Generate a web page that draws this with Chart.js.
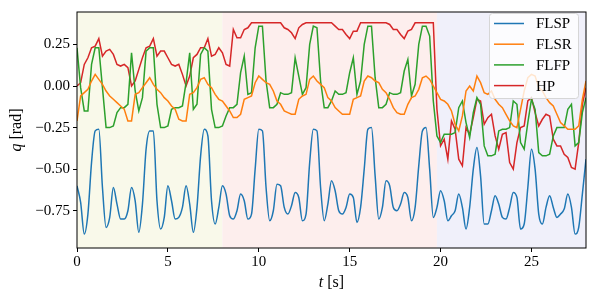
<!DOCTYPE html>
<html>
<head>
<meta charset="utf-8">
<script src="https://cdn.jsdelivr.net/npm/chart.js@4"></script>
<style>
  html, body { margin: 0; padding: 0; background: #fff; }
  #chart { display: block; }
</style>
</head>
<body>
<canvas id="chart" width="598" height="299"></canvas>
<script>
// ── Data (0.2 s sampling) ───────────────────────────────────
const t = [
  0.0, 0.2, 0.4, 0.6, 0.8, 1.0, 1.2, 1.4, 1.6, 1.8,
  2.0, 2.2, 2.4, 2.6, 2.8, 3.0, 3.2, 3.4, 3.6, 3.8,
  4.0, 4.2, 4.4, 4.6, 4.8, 5.0, 5.2, 5.4, 5.6, 5.8,
  6.0, 6.2, 6.4, 6.6, 6.8, 7.0, 7.2, 7.4, 7.6, 7.8,
  8.0, 8.2, 8.4, 8.6, 8.8, 9.0, 9.2, 9.4, 9.6, 9.8,
  10.0, 10.2, 10.4, 10.6, 10.8, 11.0, 11.2, 11.4, 11.6, 11.8,
  12.0, 12.2, 12.4, 12.6, 12.8, 13.0, 13.2, 13.4, 13.6, 13.8,
  14.0, 14.2, 14.4, 14.6, 14.8, 15.0, 15.2, 15.4, 15.6, 15.8,
  16.0, 16.2, 16.4, 16.6, 16.8, 17.0, 17.2, 17.4, 17.6, 17.8,
  18.0, 18.2, 18.4, 18.6, 18.8, 19.0, 19.2, 19.4, 19.6, 19.8,
  20.0, 20.2, 20.4, 20.6, 20.8, 21.0, 21.2, 21.4, 21.6, 21.8,
  22.0, 22.2, 22.4, 22.6, 22.8, 23.0, 23.2, 23.4, 23.6, 23.8,
  24.0, 24.2, 24.4, 24.6, 24.8, 25.0, 25.2, 25.4, 25.6, 25.8,
  26.0, 26.2, 26.4, 26.6, 26.8, 27.0, 27.2, 27.4, 27.6, 27.8,
  28.0
];

const flsp = [
  -0.60, -0.70, -0.89, -0.77, -0.46, -0.27, -0.26, -0.61, -0.85, -0.79,
  -0.61, -0.71, -0.80, -0.80, -0.75, -0.61, -0.69, -0.88, -0.71, -0.38,
  -0.27, -0.27, -0.69, -0.86, -0.79, -0.60, -0.69, -0.80, -0.79, -0.73,
  -0.60, -0.71, -0.88, -0.73, -0.42, -0.26, -0.30, -0.69, -0.83, -0.73,
  -0.60, -0.65, -0.78, -0.80, -0.75, -0.65, -0.69, -0.80, -0.77, -0.50,
  -0.26, -0.27, -0.61, -0.81, -0.75, -0.59, -0.60, -0.73, -0.77, -0.72,
  -0.64, -0.67, -0.81, -0.77, -0.46, -0.26, -0.27, -0.61, -0.81, -0.71,
  -0.57, -0.63, -0.75, -0.77, -0.73, -0.65, -0.67, -0.82, -0.73, -0.50,
  -0.26, -0.25, -0.54, -0.80, -0.73, -0.57, -0.60, -0.73, -0.75, -0.71,
  -0.64, -0.67, -0.81, -0.73, -0.48, -0.27, -0.25, -0.50, -0.79, -0.73,
  -0.63, -0.69, -0.81, -0.78, -0.75, -0.65, -0.73, -0.86, -0.73, -0.50,
  -0.37, -0.54, -0.83, -0.83, -0.75, -0.66, -0.71, -0.79, -0.80, -0.73,
  -0.64, -0.67, -0.86, -0.83, -0.61, -0.38, -0.50, -0.77, -0.83, -0.73,
  -0.66, -0.73, -0.79, -0.77, -0.74, -0.65, -0.73, -0.89, -0.85, -0.65,
  -0.44
];

const flsr = [
  -0.21, -0.06, -0.04, -0.02, 0.03, 0.07, 0.04, 0.01, -0.03, -0.06,
  -0.08, -0.10, -0.12, -0.14, -0.21, -0.21, -0.05, -0.04, -0.01, 0.02,
  0.05, 0.01, -0.02, -0.04, -0.07, -0.09, -0.12, -0.14, -0.20, -0.21,
  -0.21, -0.05, -0.04, -0.01, 0.04, 0.05, 0.01, -0.01, -0.05, -0.08,
  -0.09, -0.12, -0.15, -0.19, -0.19, -0.17, -0.08, -0.07, -0.06, 0.02,
  0.06, 0.04, 0.02, 0.01, -0.03, -0.09, -0.11, -0.15, -0.16, -0.17,
  -0.17, -0.08, -0.06, -0.05, 0.04, 0.06, 0.03, 0.01, -0.01, -0.07,
  -0.09, -0.13, -0.15, -0.17, -0.17, -0.17, -0.08, -0.07, -0.06, 0.03,
  0.06, 0.05, 0.03, 0.02, -0.02, -0.04, -0.08, -0.13, -0.16, -0.17,
  -0.17, -0.11, -0.07, -0.06, -0.02, 0.05, 0.06, 0.04, 0.00, -0.04,
  -0.08, -0.09, -0.11, -0.15, -0.23, -0.27, -0.18, -0.03, 0.00, -0.03,
  0.06, 0.02, -0.04, -0.05, -0.03, -0.08, -0.11, -0.13, -0.17, -0.21,
  -0.24, -0.25, -0.14, -0.03, 0.05, 0.07, 0.06, -0.01, -0.03, -0.07,
  -0.10, -0.12, -0.17, -0.22, -0.24, -0.26, -0.26, -0.26, -0.24, -0.08,
  0.03
];

const flfp = [
  0.23, -0.01, -0.15, -0.15, 0.13, 0.23, 0.23, -0.01, -0.25, -0.25,
  -0.24, -0.16, -0.13, -0.13, -0.11, 0.20, -0.03, -0.15, -0.07, 0.21,
  0.23, 0.23, -0.11, -0.25, -0.25, -0.24, -0.14, -0.13, -0.13, -0.12,
  0.02, 0.20, -0.14, -0.11, 0.19, 0.23, 0.21, -0.14, -0.25, -0.25,
  -0.24, -0.18, -0.13, -0.13, -0.11, 0.08, 0.18, -0.05, -0.04, 0.23,
  0.36, 0.36, 0.03, -0.13, -0.13, -0.11, -0.04, -0.05, -0.05, -0.04,
  0.17, 0.06, -0.05, -0.01, 0.25, 0.36, 0.35, 0.03, -0.13, -0.13,
  -0.09, -0.03, -0.05, -0.05, -0.04, 0.08, 0.17, -0.05, 0.03, 0.25,
  0.36, 0.36, 0.05, -0.13, -0.13, -0.11, -0.04, -0.05, -0.05, -0.04,
  0.09, 0.16, -0.06, 0.01, 0.25, 0.36, 0.36, 0.30, -0.09, -0.30,
  -0.34, -0.29, -0.29, -0.29, -0.28, -0.13, -0.09, -0.22, -0.31, -0.16,
  -0.07, -0.11, -0.36, -0.42, -0.42, -0.41, -0.27, -0.26, -0.26, -0.25,
  -0.09, -0.11, -0.34, -0.38, -0.22, -0.08, -0.14, -0.40, -0.42, -0.42,
  -0.41, -0.30, -0.25, -0.25, -0.25, -0.14, -0.11, -0.36, -0.34, -0.16,
  -0.07
];

const hp = [
  0.00, 0.02, 0.13, 0.17, 0.23, 0.24, 0.285, 0.18, 0.21, 0.22,
  0.19, 0.13, 0.12, 0.13, 0.11, 0.00, 0.03, 0.10, 0.17, 0.23,
  0.24, 0.285, 0.18, 0.21, 0.21, 0.17, 0.13, 0.12, 0.13, 0.07,
  0.00, 0.06, 0.17, 0.19, 0.23, 0.23, 0.285, 0.18, 0.19, 0.23,
  0.20, 0.13, 0.12, 0.34, 0.29, 0.29, 0.34, 0.35, 0.38, 0.38,
  0.38, 0.38, 0.38, 0.38, 0.38, 0.38, 0.38, 0.35, 0.34, 0.32,
  0.285, 0.35, 0.37, 0.38, 0.38, 0.38, 0.38, 0.38, 0.38, 0.38,
  0.38, 0.36, 0.34, 0.34, 0.31, 0.285, 0.33, 0.33, 0.38, 0.38,
  0.38, 0.38, 0.38, 0.38, 0.38, 0.38, 0.37, 0.34, 0.34, 0.31,
  0.285, 0.33, 0.34, 0.38, 0.38, 0.38, 0.38, 0.38, 0.38, -0.14,
  -0.36, -0.32, -0.44, -0.21, -0.26, -0.44, -0.48, -0.25, -0.29, -0.19,
  -0.08, -0.09, -0.23, -0.19, -0.17, -0.30, -0.38, -0.29, -0.28, -0.46,
  -0.50, -0.34, -0.25, -0.24, -0.09, -0.07, -0.16, -0.24, -0.20, -0.17,
  -0.18, -0.32, -0.36, -0.36, -0.41, -0.43, -0.49, -0.50, -0.34, -0.11,
  -0.01
];

const xTicks = [0, 5, 10, 15, 20, 25];
const yTicks = [-0.75, -0.50, -0.25, 0.00, 0.25];

// phase boundaries [s] and their shading
const phaseEdges  = [0, 8, 19.8, 28];
const phaseColors = ['#f9f9ea', '#fdeeed', '#f0f0fa'];

// ── Helpers ──────────────────────────────────────────────────
const SERIF = "'Liberation Serif', 'DejaVu Serif', serif";
const pts = ys => t.map((x, i) => ({ x, y: ys[i] }));
const fmtTick = v => (v < 0 ? '\u2212' : '') + Math.abs(v).toFixed(2);

// ── Plugins ──────────────────────────────────────────────────
const phaseShading = {
  id: 'phaseShading',
  beforeDatasetsDraw(chart) {
    const { ctx, chartArea: a, scales: { x } } = chart;
    ctx.save();
    for (let i = 0; i < phaseColors.length; i++) {
      const x0 = x.getPixelForValue(phaseEdges[i]);
      const x1 = x.getPixelForValue(phaseEdges[i + 1]);
      ctx.fillStyle = phaseColors[i];
      ctx.fillRect(x0, a.top, x1 - x0, a.bottom - a.top);
    }
    ctx.restore();
  }
};

const frameAndLegend = {
  id: 'frameAndLegend',
  afterDatasetsDraw(chart) {
    const { ctx, chartArea: a } = chart;
    ctx.save();
    // axes frame
    ctx.strokeStyle = '#000';
    ctx.lineWidth = 1;
    ctx.strokeRect(a.left, a.top, a.right - a.left, a.bottom - a.top);

    // legend box (upper right)
    const bx = 489, by = 13, bw = 89, bh = 85, r = 3;
    ctx.beginPath();
    ctx.roundRect(bx + 0.5, by + 0.5, bw, bh, r);
    ctx.fillStyle = 'rgba(255,255,255,0.8)';
    ctx.fill();
    ctx.strokeStyle = '#d6d6d6';
    ctx.stroke();

    ctx.font = `15px ${SERIF}`;
    ctx.textBaseline = 'middle';
    ctx.textAlign = 'left';
    chart.data.datasets.forEach((ds, i) => {
      const yy = by + 10.5 + i * 20.7;
      ctx.strokeStyle = ds.borderColor;
      ctx.lineWidth = 1.5;
      ctx.beginPath();
      ctx.moveTo(bx + 5, yy);
      ctx.lineTo(bx + 35, yy);
      ctx.stroke();
      ctx.fillStyle = '#000';
      ctx.fillText(ds.label, bx + 47, yy + 1);
    });
    ctx.restore();
  }
};

// axis titles with an italic variable and upright unit
const axisTitles = {
  id: 'axisTitles',
  afterDraw(chart) {
    const { ctx, chartArea: a } = chart;
    const draw = (v, unit, cx, cy, rot) => {
      ctx.save();
      ctx.translate(cx, cy);
      ctx.rotate(rot);
      ctx.textBaseline = 'middle';
      ctx.fillStyle = '#000';
      ctx.font = `italic 16px ${SERIF}`;
      const w1 = ctx.measureText(v).width;
      ctx.font = `16px ${SERIF}`;
      const w2 = ctx.measureText(unit).width;
      let x0 = -(w1 + w2) / 2;
      ctx.font = `italic 16px ${SERIF}`;
      ctx.fillText(v, x0, 0);
      ctx.font = `16px ${SERIF}`;
      ctx.fillText(unit, x0 + w1, 0);
      ctx.restore();
    };
    draw('t', ' [s]', (a.left + a.right) / 2, 283, 0);
    draw('q', ' [rad]', 17, (a.top + a.bottom) / 2, -Math.PI / 2);
  }
};

// ── Chart ────────────────────────────────────────────────────
const line = (label, data, color, mode) => ({
  label,
  data: pts(data),
  borderColor: color,
  borderWidth: 1.5,
  pointRadius: 0,
  fill: false,
  cubicInterpolationMode: mode,
  tension: 0
});

new Chart(document.getElementById('chart'), {
  type: 'line',
  data: {
    datasets: [
      line('FLSP', flsp, '#1f77b4', 'monotone'),
      line('FLSR', flsr, '#ff7f0e', 'default'),
      line('FLFP', flfp, '#2ca02c', 'default'),
      line('HP',   hp,   '#d62728', 'default')
    ]
  },
  options: {
    responsive: false,
    animation: false,
    devicePixelRatio: 1,
    layout: { padding: { top: 6, right: 12, bottom: 0, left: 0 } },
    plugins: { legend: { display: false }, tooltip: { enabled: false } },
    scales: {
      x: {
        type: 'linear',
        min: 0, max: 28,
        afterBuildTicks: s => { s.ticks = xTicks.map(v => ({ value: v })); },
        afterFit: s => { s.height = 51; },
        ticks: { color: '#000', font: { family: SERIF, size: 15 }, padding: 1, maxRotation: 0 },
        grid: { drawOnChartArea: false, tickLength: 4, color: '#000' },
        border: { display: false }
      },
      y: {
        type: 'linear',
        min: -0.974, max: 0.445,
        afterBuildTicks: s => { s.ticks = yTicks.map(v => ({ value: v })); },
        afterFit: s => { s.width = 77; },
        ticks: { color: '#000', font: { family: SERIF, size: 15 }, padding: 3, callback: fmtTick },
        grid: { drawOnChartArea: false, tickLength: 4, color: '#000' },
        border: { display: false }
      }
    }
  },
  plugins: [phaseShading, frameAndLegend, axisTitles]
});
</script>
</body>
</html>
